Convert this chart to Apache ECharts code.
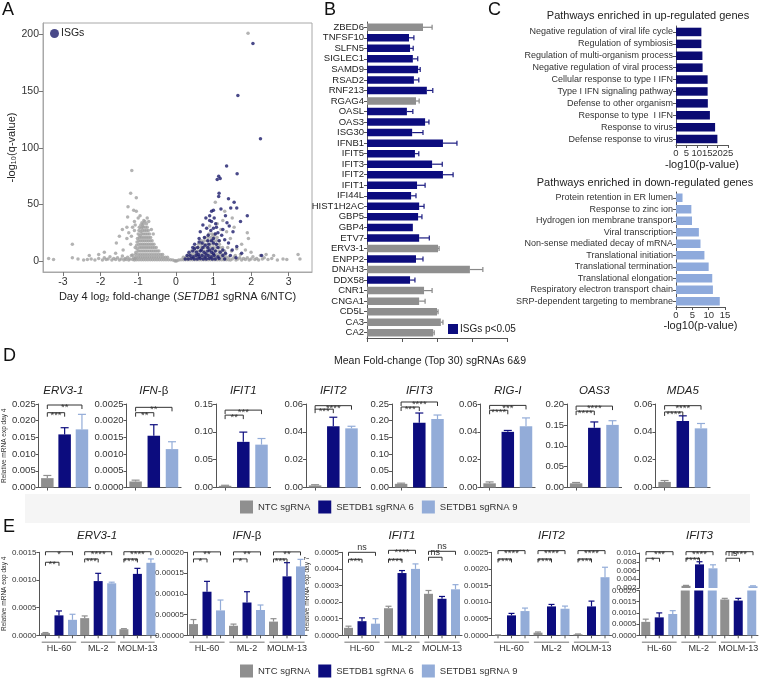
<!DOCTYPE html>
<html><head><meta charset="utf-8">
<script src="https://cdn.jsdelivr.net/npm/echarts@6/dist/echarts.min.js"></script>
<style>html,body{margin:0;padding:0;background:#fff}#c{width:761px;height:678px}</style>
</head><body><div id="c"></div>
<script>
// ================= DATA =================
// Panel A: volcano plot
const volcanoTicksX = [-3,-2,-1,0,1,2,3];
const volcanoTicksY = [0,50,100,150,200];
const volcanoGray = [
[-3.25,1.5],[-3.38,2.5],[-2.75,3],[-2.6,2],[-2.45,1],[-2.35,1.5],[-2.25,2],[-2.15,1],[-2.05,2.5],[-1.95,1],[-1.9,3],[-1.85,1.5],[-1.8,2],[-1.75,4],[-1.7,1],[-1.65,2.5],[-1.6,1.5],[-1.55,3],[-1.5,1],[-1.45,2],[-1.42,4.5],[-1.38,1],[-1.35,2.5],[-1.32,1.5],[-1.28,3.5],[-1.25,1],[-1.22,2],[-1.18,5],[-1.15,1.5],[-1.12,3],[-1.1,1],[-1.08,2.2],
[-1.17,80],[-1.2,60],[-1.05,56],[-1.27,48],[-1.05,44],[-1.28,39],[-0.95,40],[-1.3,30],[-1.42,28],[-1.5,22],[-1.58,16],[-2.75,15],[-1.9,8],[-2.05,6],[-2.3,5],[-1.1,35],[-1.15,30],[-1.25,25],[-1.12,45],[-1.3,20],[-0.72,35],[-0.76,38],[-1.0,38],[-1.2,15],[-1.4,10],[-1.6,7],[-1.18,22],[-1.1,27],[-0.65,28],[-0.6,24],[-1.08,32],
[-0.85,36],[-0.9,34],[-0.82,35],
[-0.78,33],[-0.86,33],[-0.93,32],[-0.88,31],
[-0.76,30],[-0.81,30],[-0.87,30],[-0.92,29],[-0.97,30],
[-0.73,27],[-0.78,27],[-0.83,27],[-0.88,27],[-0.93,26],[-0.98,27],
[-0.7,24],[-0.75,24],[-0.8,24],[-0.85,24],[-0.9,24],[-0.95,23],[-1.0,24],
[-0.67,21],[-0.72,21],[-0.77,21],[-0.82,21],[-0.87,21],[-0.92,21],[-0.97,21],[-1.02,20],
[-0.63,18],[-0.68,18],[-0.73,18],[-0.78,18],[-0.83,18],[-0.88,18],[-0.93,18],[-0.98,18],[-1.03,17],
[-0.58,15],[-0.63,15],[-0.68,15],[-0.73,15],[-0.78,15],[-0.83,15],[-0.88,15],[-0.93,15],[-0.98,15],[-1.04,14],
[-0.52,12],[-0.57,12],[-0.62,12],[-0.67,12],[-0.72,12],[-0.77,12],[-0.82,12],[-0.87,12],[-0.92,12],[-0.97,12],[-1.03,11],[-1.08,12],
[-0.45,9],[-0.5,9],[-0.55,9],[-0.6,9],[-0.65,9],[-0.7,9],[-0.75,9],[-0.8,9],[-0.85,9],[-0.9,9],[-0.95,9],[-1.0,9],[-1.06,8],
[-0.35,6],[-0.4,6],[-0.46,6],[-0.52,6],[-0.58,6],[-0.64,6],[-0.7,6],[-0.76,6],[-0.82,6],[-0.88,6],[-0.94,6],[-1.0,6],[-1.07,6],[-1.15,5.5],
[-0.22,3.5],[-0.28,3.5],[-0.34,3.5],[-0.4,3.5],[-0.46,3.5],[-0.52,3.5],[-0.58,3.5],[-0.64,3.5],[-0.7,3.5],[-0.76,3.5],[-0.82,3.5],[-0.88,3.5],[-0.94,3.5],[-1.0,3.5],[-1.06,3.5],
[-0.08,1],[-0.14,1.2],[-0.2,1.2],[-0.26,1.2],[-0.32,1.2],[-0.38,1.2],[-0.44,1.2],[-0.5,1.2],[-0.56,1.2],[-0.62,1.2],[-0.68,1.2],[-0.74,1.2],[-0.8,1.2],[-0.86,1.2],[-0.92,1.2],[-0.98,1.2],[-1.04,1.2],
[0,0.3],[-0.03,0.5],[0.03,0.5],
[0.08,1],[0.14,1.2],[0.2,1.2],[0.26,1.2],[0.32,1.2],[0.38,1.2],[0.44,1.2],[0.5,1.2],[0.56,1.2],[0.62,1.2],[0.68,1.2],[0.74,1.2],[0.8,1.2],[0.86,1.2],[0.92,1.2],[0.98,1.2],[1.04,1.2],[1.1,1.2],[1.16,1.2],[1.22,1.2],[1.28,1.2],[1.34,1.2],[1.4,1.2],
[0.2,3.5],[0.27,3.5],[0.34,3.5],[0.41,3.5],[0.48,3.5],[0.55,3.5],[0.62,3.5],[0.69,3.5],[0.76,3.5],[0.83,3.5],[0.9,3.5],[0.97,3.5],[1.04,3.5],[1.11,3.5],[1.18,3.5],[1.25,3.5],[1.32,3.5],[1.4,3.5],
[0.33,6],[0.4,6],[0.47,6],[0.54,6],[0.61,6],[0.68,6],[0.75,6],[0.82,6],[0.89,6],[0.96,6],[1.03,6],[1.1,6],[1.17,6],[1.24,6],[1.32,6],
[0.42,9],[0.5,9],[0.58,9],[0.66,9],[0.74,9],[0.82,9],[0.9,9],[0.98,9],[1.06,9],[1.14,9],[1.22,9],[1.3,9],
[0.52,12],[0.6,12],[0.68,12],[0.76,12],[0.84,12],[0.92,12],[1.0,12],[1.08,12],[1.16,12],[1.24,12],
[0.6,15],[0.68,15],[0.76,15],[0.84,15],[0.92,15],[1.0,15],[1.08,15],[1.16,15],
[0.68,18],[0.76,18],[0.84,18],[0.92,18],[1.0,18],[1.08,18],[1.16,18],
[0.78,21],[0.86,21],[0.94,21],[1.02,21],[1.1,21],
[0.88,24],[0.96,24],[1.04,24],
[1.45,1],[1.5,2],[1.55,3.5],[1.6,1],[1.65,2],[1.7,3],[1.75,1],[1.8,2.5],[1.85,1.5],[1.9,3],[1.95,1],[2.0,2],[2.05,4],[2.1,1.5],[2.15,2.5],[2.2,1],[2.3,2],[2.35,3],[2.45,1.5],[2.55,2.5],[2.6,5],[2.7,1],[2.85,2],[2.95,1.5],[3.25,6],[3.3,2],[2.25,5],[2.4,6],[1.58,5],[1.72,6],
[1.92,201],[1.2,28],[1.55,30],[1.45,20],[1.9,25],[1.93,20],[1.75,15],[1.62,11],[1.85,10],[1.5,38],[0.9,31],[1.1,33],[1.0,23],[1.25,36],[1.35,26],[1.3,44],[1.05,52],[1.48,9],[1.38,12],[2.0,8]
];
const volcanoISG = [
[2.05,192],[1.65,146],[2.25,108],[1.35,84],[1.63,77],[1.14,75],[1.1,72],[1.18,73],[1.15,60],[1.14,57],[1.4,55],[1.55,52],[1.62,47],[1.46,47],[1.2,46],[1.0,45],[0.95,44],[1.32,40],[0.9,40],[1.9,40],[1.02,38],[1.72,35],[0.95,35],[1.36,34],[1.06,33],[1.42,31],[0.72,32],[0.82,29],[1.0,29],[0.93,27],[0.65,26],[1.12,25],[1.52,26],[1.22,23],[0.86,23],[0.62,20],[0.76,21],[1.0,20],[1.3,19],[1.62,13],[1.75,7],[2.28,5],[1.5,10],[1.4,16],[0.9,36],[1.08,30],[1.25,28],[0.8,38],[1.05,24],[0.95,18],[1.15,18],
[0.5,15],[0.7,16],[0.88,15],[1.08,15],[0.45,12],[0.58,12],[0.72,12],[0.85,12],[0.98,11],[1.12,12],[1.25,10],[0.35,8],[0.45,9],[0.55,8],[0.65,9],[0.75,8],[0.85,9],[0.95,8],[1.05,9],[1.18,8],[1.32,7],[0.3,5],[0.38,5],[0.46,4],[0.54,5],[0.62,4],[0.7,5],[0.78,4],[0.86,5],[0.94,4],[1.02,5],[1.12,4],[1.25,5],[1.45,5],[0.25,2],[0.33,2],[0.41,2.5],[0.49,2],[0.57,2],[0.65,2.5],[0.73,2],[0.81,2],[0.89,2.5],[0.97,2],[1.05,2],[1.15,2.5],[1.3,2],[1.6,3],[0.6,6],[0.8,6.5],[1.0,6.5],[0.5,11],[0.68,10],[0.9,10],[0.78,14],[0.62,17],[0.85,18],[1.0,16]
];

// Panel B: top 30 genes
const bGenes = ['ZBED6','TNFSF10','SLFN5','SIGLEC1','SAMD9','RSAD2','RNF213','RGAG4','OASL','OAS3','ISG30','IFNB1','IFIT5','IFIT3','IFIT2','IFIT1','IFI44L','HIST1H2AC','GBP5','GBP4','ETV7','ERV3-1','ENPP2','DNAH3','DDX58','CNR1','CNGA1','CD5L','CA3','CA2'];
const bValues = [1.6,1.2,1.23,1.31,1.46,1.34,1.71,1.4,1.14,1.66,1.29,2.17,1.37,1.86,2.17,1.43,1.26,1.49,1.46,1.31,1.49,2.03,1.4,2.94,1.23,1.63,1.49,2.0,2.11,1.89];
const bErrTop = [1.86,1.34,1.32,1.45,1.52,1.48,1.88,1.49,1.31,1.77,1.6,2.57,1.48,2.15,2.46,1.66,1.4,1.63,1.57,1.31,1.78,2.06,1.6,3.31,1.37,1.86,1.66,2.03,2.17,1.92];
const bISG = [0,1,1,1,1,1,1,0,1,1,1,1,1,1,1,1,1,1,1,1,1,0,1,0,1,0,0,0,0,0];

// Panel C: pathway enrichment
const upPathways = ['Negative regulation of viral life cycle','Regulation of symbiosis','Regulation of multi-organism process','Negative regulation of viral process','Cellular response to type I IFN','Type I IFN signaling pathway','Defense to other organism','Response to type  I IFN','Response to virus','Defense response to virus'];
const upValues = [12.2,12.2,12.7,12.8,15.2,15.2,15.3,16.3,18.8,19.9];
const downPathways = ['Protein retention in ER lumen','Response to zinc ion','Hydrogen ion membrane transport','Viral transcription','Non-sense mediated decay of mRNA','Translational initiation','Translational termination','Translational elongation','Respiratory electron transport chain','SRP-dependent targeting to membrane'];
const downValues = [2.0,4.7,4.9,7.0,7.5,8.7,10.0,11.1,11.3,13.4];

// Panel D: qPCR day 4
const dGroups = ['NTC sgRNA','SETDB1 sgRNA 6','SETDB1 sgRNA 9'];
const dGenes = ['ERV3-1','IFN-β','IFIT1','IFIT2','IFIT3','RIG-I','OAS3','MDA5'];
const dMean = [[0.0028,0.0159,0.0174],[0.00018,0.00155,0.00115],[0.003,0.082,0.077],[0.0015,0.044,0.0425],[0.011,0.194,0.205],[0.003,0.040,0.044],[0.010,0.143,0.150],[0.004,0.0477,0.0425]];
const dErrTop = [[0.0036,0.0179,0.0219],[0.00022,0.00188,0.00137],[0.004,0.0995,0.088],[0.002,0.0505,0.044],[0.013,0.223,0.217],[0.004,0.041,0.050],[0.012,0.157,0.160],[0.005,0.0515,0.046]];
const dAxisMax = [0.025,0.0025,0.15,0.06,0.25,0.06,0.20,0.06];
const dAxisStep = [0.005,0.0005,0.05,0.02,0.05,0.02,0.05,0.02];
const dAxisDigits = [3,4,2,2,2,2,2,2];
const dBrackets = [
 [[0,1,0.0224,'***'],[0,2,0.0247,'**']],
 [[0,1,0.00224,'**'],[0,2,0.0024,'**']],
 [[0,1,0.130,'**'],[0,2,0.139,'***']],
 [[0,1,0.0563,'***'],[0,2,0.0588,'****']],
 [[0,1,0.241,'***'],[0,2,0.256,'****']],
 [[0,1,0.0555,'****'],[0,2,0.059,'***']],
 [[0,1,0.183,'****'],[0,2,0.195,'****']],
 [[0,1,0.0543,'****'],[0,2,0.0588,'****']]
];

// Panel E: qPCR in three cell lines
const eCells = ['HL-60','ML-2','MOLM-13'];
const eGenes = ['ERV3-1','IFN-β','IFIT1','IFIT2','IFIT3'];
const eNTC    = [[0.00004,0.00031,0.00011],[0.000027,0.000023,0.000033],[0.000045,0.000163,0.00025],[0.00001,0.00008,0.00003],[0.0006,0.0025,0.0016]];
const eNTCerr = [[0.00005,0.00035,0.00012],[0.000038,0.000027,0.00004],[0.000055,0.000175,0.00027],[0.000012,0.0001,0.00004],[0.00072,0.0026,0.00165]];
const eSg6    = [[0.00036,0.00098,0.00111],[0.000105,0.000079,0.000142],[0.000085,0.000375,0.00022],[0.0006,0.00087,0.00087],[0.0008,0.0074,0.00155]];
const eSg6err = [[0.00044,0.00112,0.00121],[0.00013,0.000105,0.000175],[0.000105,0.00039,0.000234],[0.00066,0.00093,0.00103],[0.001,0.008,0.00165]];
const eSg9    = [[0.00028,0.00094,0.00131],[0.00006,0.000061,0.000166],[0.00007,0.0004,0.000277],[0.00073,0.0008,0.00175],[0.00095,0.0065,0.0024]];
const eSg9err = [[0.00038,0.00096,0.00138],[0.000085,0.000073,0.000183],[0.0001,0.00043,0.000305],[0.00082,0.00088,0.00205],[0.0011,0.0073,0.0025]];
const eAxisMax = [0.0015,0.0002,0.0005,0.0025,0.002];
const eAxisStep = [0.0005,0.00005,0.0001,0.0005,0.0005];
const eAxisDigits = [4,5,4,4,4];
const eUpperMin = 0.002, eUpperMax = 0.010, eUpperStep = 0.002;
const eBrackets = [
 [[0,0,1,0.00132,'**'],[0,0,2,0.00151,'*'],[1,0,1,0.00138,'***'],[1,0,2,0.00151,'****'],[2,0,1,0.00138,'****'],[2,0,2,0.00151,'****']],
 [[0,0,1,0.000184,'*'],[0,0,2,0.000201,'**'],[1,0,1,0.000184,'*'],[1,0,2,0.000201,'**'],[2,0,1,0.000184,'***'],[2,0,2,0.000201,'**']],
 [[0,0,1,0.000458,'***'],[0,0,2,0.0005,'ns'],[1,0,1,0.000458,'****'],[1,0,2,0.000512,'****'],[2,0,1,0.00047,'ns'],[2,0,2,0.000506,'ns']],
 [[0,0,1,0.0023,'****'],[0,0,2,0.00255,'****'],[1,0,1,0.0023,'****'],[1,0,2,0.00255,'****'],[2,0,1,0.0023,'****'],[2,0,2,0.00255,'****']],
 [[0,0,1,0.0088,'*'],[0,0,2,0.0103,'***'],[1,0,1,0.0088,'****'],[1,0,2,0.0103,'****'],[2,0,1,0.0088,'ns'],[2,0,2,0.0103,'****']]
];

// ================= STYLE / LAYOUT =================
const FONT = '"Liberation Sans", Arial, sans-serif';
const NAVY = '#0c0c7e', GRAY = '#8f8f8f', LBLUE = '#93acd8';
const COLS = [GRAY, NAVY, LBLUE];
const LC = '#555';
const axLine = {show:true,onZero:false,lineStyle:{color:LC,width:1}};
const axTick = {show:true,length:3,lineStyle:{color:LC,width:1}};

const grids=[], xAxes=[], yAxes=[], series=[], titles=[];
function addPanel(grid, xa, ya){ const i=grids.length; grids.push(grid); xa.gridIndex=i; ya.gridIndex=i; xAxes.push(xa); yAxes.push(ya); return i; }

function vErrSeries(gi, items, cap){
  return {type:'custom',xAxisIndex:gi,yAxisIndex:gi,silent:true,z:5,clip:false,
    data:items.map(it=>[it.cat,it.e]),encode:{x:0,y:1},
    renderItem:(p,api)=>{const it=items[p.dataIndex];const a=api.coord([it.cat,it.v]);const b=api.coord([it.cat,it.e]);const x=a[0]+it.off;
      return {type:'group',children:[
        {type:'line',shape:{x1:x,y1:a[1],x2:x,y2:b[1]},style:{stroke:it.color,lineWidth:1.2}},
        {type:'line',shape:{x1:x-cap/2,y1:b[1],x2:x+cap/2,y2:b[1]},style:{stroke:it.color,lineWidth:1.2}}]};}};
}
function bracketSeries(gi, items, tick){
  return {type:'custom',xAxisIndex:gi,yAxisIndex:gi,silent:true,z:6,clip:false,
    data:items.map(it=>[it.c0,it.y]),encode:{x:0,y:1},
    renderItem:(p,api)=>{const it=items[p.dataIndex];const a=api.coord([it.c0,it.y]);const b=api.coord([it.c1,it.y]);
      const x0=a[0]+it.o0,x1=b[0]+it.o1,y=a[1];const ns=it.t==='ns';
      return {type:'group',children:[
        {type:'polyline',shape:{points:[[x0,y+tick],[x0,y],[x1,y],[x1,y+tick]]},style:{stroke:'#333',lineWidth:1,fill:'none'}},
        {type:'text',style:{text:it.t,x:(x0+x1)/2,y:ns?y-0.5:y+2.5,align:'center',textAlign:'center',verticalAlign:ns?'bottom':'middle',textVerticalAlign:ns?'bottom':'middle',fontSize:ns?9:9.5,fontFamily:FONT,fill:'#333'}}]};}};
}
function geneTitle(g, x, y){
  const txt = g==='IFN-β' ? '{i|IFN}{n|-β}' : '{i|'+g+'}';
  titles.push({text:txt,left:x,top:y,textAlign:'center',padding:0,textStyle:{fontSize:11.5,fontWeight:'normal',fontFamily:FONT,color:'#222',rich:{i:{fontSize:11.5,fontStyle:'italic',fontWeight:'normal',fontFamily:FONT,color:'#222'},n:{fontSize:11.5,fontWeight:'normal',fontFamily:FONT,color:'#222'}}}});
}

// ---------- Panel A ----------
const ia = addPanel({left:43,top:23,width:269,height:249,show:true,borderColor:'#a8a8a8',borderWidth:1},
  {type:'value',min:-3.53,max:3.62,splitLine:{show:false},axisLine:{show:true,onZero:false,lineStyle:{color:'#a8a8a8'}},
   axisTick:{show:true,length:4,customValues:volcanoTicksX,lineStyle:{color:'#777'}},
   axisLabel:{customValues:volcanoTicksX,fontSize:10.5,color:'#333',fontFamily:FONT,margin:5},
   name:'{n|Day 4 log₂ fold-change (}{i|SETDB1}{n| sgRNA 6/NTC)}',nameLocation:'middle',nameGap:19,
   nameTextStyle:{rich:{n:{fontSize:11,color:'#222',fontFamily:FONT},i:{fontSize:11,fontStyle:'italic',color:'#222',fontFamily:FONT}}}},
  {type:'value',min:-9.5,max:210,splitLine:{show:false},axisLine:{show:true,onZero:false,lineStyle:{color:'#a8a8a8'}},
   axisTick:{show:true,length:4,customValues:volcanoTicksY,lineStyle:{color:'#777'}},
   axisLabel:{customValues:volcanoTicksY,fontSize:10.5,color:'#333',fontFamily:FONT,margin:4},
   name:'-log₁₀(q-value)',nameLocation:'middle',nameRotate:90,nameGap:23,nameTextStyle:{fontSize:11,color:'#222',fontFamily:FONT}});
series.push({type:'scatter',xAxisIndex:ia,yAxisIndex:ia,data:volcanoGray,symbolSize:3.5,itemStyle:{color:'#a0a0a0'},silent:true,z:2});
series.push({type:'scatter',name:'ISGs',xAxisIndex:ia,yAxisIndex:ia,data:volcanoISG,symbolSize:3.5,itemStyle:{color:'#1b1b6c'},silent:true,z:3});

// ---------- Panel B ----------
const ib = addPanel({left:367,top:22,width:140,height:316},
  {type:'value',min:0,max:4,interval:1,splitLine:{show:false},axisLine:axLine,axisTick:{show:true,length:4,lineStyle:{color:LC}},axisLabel:{show:false},
   name:'Mean Fold-change (Top 30) sgRNAs 6&9',nameLocation:'middle',nameGap:18,nameTextStyle:{fontSize:10.5,color:'#222',fontFamily:FONT,padding:[0,14,0,0]}},
  {type:'category',data:bGenes,inverse:true,axisLine:axLine,axisTick:{show:true,length:3,alignWithLabel:true,lineStyle:{color:LC}},
   axisLabel:{fontSize:9.5,color:'#222',fontFamily:FONT,margin:3,interval:0}});
series.push({type:'bar',name:'ISGs p<0.05',xAxisIndex:ib,yAxisIndex:ib,barWidth:7.5,itemStyle:{color:NAVY},silent:true,
  data:bValues.map((v,i)=>({value:v,itemStyle:{color:bISG[i]?NAVY:GRAY}}))});
(function(){
  const items = bGenes.map((g,i)=>({i,v:bValues[i],e:bErrTop[i],color:bISG[i]?'#1a1a80':'#888'}));
  series.push({type:'custom',xAxisIndex:ib,yAxisIndex:ib,silent:true,z:5,clip:false,
    data:items.map(it=>[it.e,it.i]),encode:{x:0,y:1},
    renderItem:(p,api)=>{const it=items[p.dataIndex];if(it.e-it.v<0.01)return null;const a=api.coord([it.v,it.i]);const b=api.coord([it.e,it.i]);
      return {type:'group',children:[
        {type:'line',shape:{x1:a[0],y1:a[1],x2:b[0],y2:b[1]},style:{stroke:it.color,lineWidth:1.2}},
        {type:'line',shape:{x1:b[0],y1:b[1]-2.5,x2:b[0],y2:b[1]+2.5},style:{stroke:it.color,lineWidth:1.2}}]};}});
})();

// ---------- Panel C ----------
const icu = addPanel({left:676,top:26,width:52,height:119},
  {type:'value',min:0,max:25,interval:5,splitLine:{show:false},axisLine:axLine,axisTick:axTick,axisLabel:{fontSize:9.5,color:'#333',fontFamily:FONT,margin:3},
   name:'-log10(p-value)',nameLocation:'middle',nameGap:14,nameTextStyle:{fontSize:11,color:'#222',fontFamily:FONT}},
  {type:'category',data:upPathways,inverse:true,axisLine:axLine,axisTick:{show:true,length:3,alignWithLabel:true,lineStyle:{color:LC}},
   axisLabel:{fontSize:9,color:'#333',fontFamily:FONT,margin:3,interval:0}});
series.push({type:'bar',xAxisIndex:icu,yAxisIndex:icu,barWidth:8.5,itemStyle:{color:'#0b0b72'},data:upValues,silent:true});
const icd = addPanel({left:676,top:192,width:49,height:115},
  {type:'value',min:0,max:15,interval:5,splitLine:{show:false},axisLine:axLine,axisTick:axTick,axisLabel:{fontSize:9.5,color:'#333',fontFamily:FONT,margin:3},
   name:'-log10(p-value)',nameLocation:'middle',nameGap:13,nameTextStyle:{fontSize:11,color:'#222',fontFamily:FONT}},
  {type:'category',data:downPathways,inverse:true,axisLine:axLine,axisTick:{show:true,length:3,alignWithLabel:true,lineStyle:{color:LC}},
   axisLabel:{fontSize:9,color:'#333',fontFamily:FONT,margin:3,interval:0}});
series.push({type:'bar',xAxisIndex:icd,yAxisIndex:icd,barWidth:8.5,itemStyle:{color:'#8eaadc'},data:downValues,silent:true});
titles.push({text:'Pathways enriched in up-regulated genes',left:648,top:10,textAlign:'center',padding:0,textStyle:{fontSize:11,fontWeight:'normal',color:'#222',fontFamily:FONT}});
titles.push({text:'Pathways enriched in down-regulated genes',left:645,top:177,textAlign:'center',padding:0,textStyle:{fontSize:11,fontWeight:'normal',color:'#222',fontFamily:FONT}});

// ---------- Panel D ----------
const dLeft = [36,126.5,216,306,392,480.5,567,655.5];
dGenes.forEach((g,gi)=>{
  const yName = gi===0 ? {name:'Relative mRNA exp day 4',nameLocation:'middle',nameRotate:90,nameGap:27,nameTextStyle:{fontSize:6.5,color:'#333',fontFamily:FONT}} : {};
  const i = addPanel({left:dLeft[gi],top:404,width:54.6,height:83.5},
    {type:'category',data:dGroups,axisLine:axLine,axisTick:{show:true,alignWithLabel:true,length:3,lineStyle:{color:LC}},axisLabel:{show:false}},
    Object.assign({type:'value',min:0,max:dAxisMax[gi],interval:dAxisStep[gi],splitLine:{show:false},axisLine:axLine,axisTick:axTick,
      axisLabel:{fontSize:9.5,color:'#333',fontFamily:FONT,margin:3,formatter:v=>v.toFixed(dAxisDigits[gi])}}, yName));
  series.push({type:'bar',xAxisIndex:i,yAxisIndex:i,barWidth:12.5,silent:true,data:dMean[gi].map((v,k)=>({value:v,itemStyle:{color:COLS[k]}}))});
  series.push(vErrSeries(i, dMean[gi].map((v,k)=>({cat:k,v:v,e:dErrTop[gi][k],color:COLS[k],off:0})), 8));
  series.push(bracketSeries(i, dBrackets[gi].map(b=>({c0:b[0],c1:b[1],o0:0,o1:0,y:b[2],t:b[3]})), 4));
  geneTitle(g, dLeft[gi]+27.3, 385);
});

// ---------- Panel E ----------
const eLeft = [37,187,342,491.5,639.5];
const OFF = 13.5;
function groupDeco(gi){
  return {type:'custom',xAxisIndex:gi,yAxisIndex:gi,silent:true,clip:false,z:4,data:[[0,0],[1,0],[2,0]],encode:{x:0,y:1},
    renderItem:(p,api)=>{const c=api.coord([api.value(0),0]);const band=api.size([1,0])[0];const ch=[];
      for(let k=-1;k<=1;k++){ch.push({type:'line',shape:{x1:c[0]+k*OFF,y1:c[1],x2:c[0]+k*OFF,y2:c[1]+3},style:{stroke:LC,lineWidth:1}});}
      ch.push({type:'line',shape:{x1:c[0]-band*0.44,y1:c[1]+7,x2:c[0]+band*0.44,y2:c[1]+7},style:{stroke:'#a0a0a0',lineWidth:1.5}});
      return {type:'group',children:ch};}};
}
eGenes.forEach((g,gi)=>{
  const broken = gi===4;
  let yName = {};
  if(gi===0) yName={name:'Relative mRNA exp day 4',nameLocation:'middle',nameRotate:90,nameGap:27,nameTextStyle:{fontSize:6.5,color:'#333',fontFamily:FONT}};
  if(gi===2) yName={name:'Relative mRNA exp day 7',nameLocation:'middle',nameRotate:90,nameGap:22,nameTextStyle:{fontSize:6.5,color:'#333',fontFamily:FONT}};
  const grid = broken ? {left:eLeft[gi],top:590.5,width:120,height:44.8} : {left:eLeft[gi],top:552.3,width:120,height:83};
  const i = addPanel(grid,
    {type:'category',data:eCells,axisLine:axLine,axisTick:{show:false},axisLabel:{fontSize:9,color:'#333',fontFamily:FONT,margin:9,interval:0}},
    Object.assign({type:'value',min:0,max:eAxisMax[gi],interval:eAxisStep[gi],splitLine:{show:false},axisLine:axLine,axisTick:axTick,
      axisLabel:{fontSize:8,color:'#333',fontFamily:FONT,margin:3,formatter:v=>v.toFixed(eAxisDigits[gi])}}, yName));
  const means=[eNTC[gi],eSg6[gi],eSg9[gi]], errs=[eNTCerr[gi],eSg6err[gi],eSg9err[gi]];
  means.forEach((arr,k)=>series.push({type:'bar',name:dGroups[k],xAxisIndex:i,yAxisIndex:i,barWidth:9,barGap:'50%',itemStyle:{color:COLS[k]},data:arr,silent:true}));
  series.push(groupDeco(i));
  const items=[];
  means.forEach((arr,k)=>arr.forEach((v,c)=>items.push({cat:c,v:v,e:errs[k][c],color:COLS[k],off:(k-1)*OFF})));
  const brItems = eBrackets[gi].map(b=>({c0:b[0],c1:b[0],o0:(b[1]-1)*OFF,o1:(b[2]-1)*OFF,y:b[3],t:b[4]}));
  if(!broken){
    series.push(vErrSeries(i, items, 6));
    series.push(bracketSeries(i, brItems, 3.5));
    geneTitle(g, eLeft[gi]+60, 530);
  } else {
    series.push(vErrSeries(i, items.filter(it=>it.e<=eUpperMin), 6));
    const u = addPanel({left:eLeft[gi],top:553,width:120,height:35},
      {type:'category',data:eCells,show:false},
      {type:'value',min:eUpperMin,max:eUpperMax,interval:eUpperStep,splitLine:{show:false},axisLine:axLine,axisTick:axTick,
       axisLabel:{fontSize:8,color:'#333',fontFamily:FONT,margin:3,formatter:v=>v.toFixed(3)}});
    means.forEach((arr,k)=>series.push({type:'bar',name:dGroups[k],xAxisIndex:u,yAxisIndex:u,barWidth:9,barGap:'50%',itemStyle:{color:COLS[k]},data:arr,silent:true}));
    series.push(vErrSeries(u, items.filter(it=>it.e>eUpperMin), 6));
    series.push(bracketSeries(u, brItems, 3.5));
    geneTitle(g, eLeft[gi]+60, 530);
  }
});

// ---------- panel letters ----------
[['A',2,1],['B',324,1],['C',488,1],['D',3,347],['E',3,518]].forEach(l=>titles.push({text:l[0],left:l[1],top:l[2],padding:0,textStyle:{fontSize:18,fontWeight:'normal',color:'#111',fontFamily:FONT}}));

const legendText = {fontSize:9.5,color:'#333',fontFamily:FONT};
const option = {
  animation:false,
  backgroundColor:'#fff',
  title:titles,
  grid:grids, xAxis:xAxes, yAxis:yAxes, series:series,
  graphic:[{type:'rect',left:25,top:494,shape:{width:725,height:29},style:{fill:'#f5f5f5'},z:-10,silent:true}],
  legend:[
    {data:[{name:'ISGs',icon:'circle'}],left:50,top:28,itemWidth:9,itemHeight:9,itemGap:2,padding:0,selectedMode:false,textStyle:{fontSize:10.5,color:'#222',fontFamily:FONT,padding:[0,0,0,-3]}},
    {data:[{name:'ISGs p<0.05',icon:'rect'}],left:448,top:324,itemWidth:10,itemHeight:10,itemGap:2,padding:0,selectedMode:false,textStyle:{fontSize:10,color:'#222',fontFamily:FONT,padding:[0,0,0,-3]}},
    {data:dGroups.map(n=>({name:n,icon:'rect'})),left:240,top:500.5,itemWidth:13,itemHeight:13,itemGap:8,padding:0,selectedMode:false,textStyle:legendText},
    {data:dGroups.map(n=>({name:n,icon:'rect'})),left:240,top:664.5,itemWidth:13,itemHeight:13,itemGap:8,padding:0,selectedMode:false,textStyle:legendText}
  ]
};
const chart = echarts.init(document.getElementById('c'), null, {renderer:'canvas'});
chart.setOption(option);
</script>
</body></html>
